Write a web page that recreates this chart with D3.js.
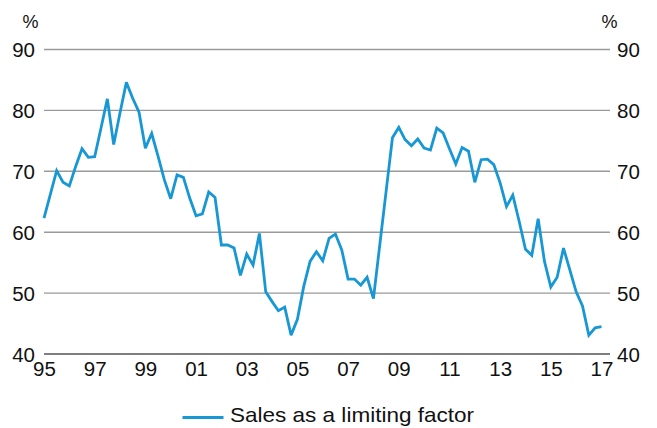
<!DOCTYPE html>
<html>
<head>
<meta charset="utf-8">
<script src="https://cdn.jsdelivr.net/npm/d3@7"></script>
<style>
  html, body { margin: 0; padding: 0; background: #fff; }
  svg { display: block; font-family: "Liberation Sans", Arial, Helvetica, sans-serif; }
</style>
</head>
<body>
<svg id="chart" width="657" height="428"></svg>
<script>
// ---- Data (quarterly, 1995 Q1 .. 2017 Q1) ----
const startYear = 1995;
const seriesName = "Sales as a limiting factor";
const salesValues = [
  62.3, 66.2, 70.1, 68.2, 67.6, 70.8, 73.7, 72.3,
  72.4, 77.1, 81.9, 74.4, 79.6, 84.6, 82.0, 79.7,
  73.8, 76.2, 72.5, 68.6, 65.5, 69.4, 69.0, 65.6,
  62.7, 63.0, 66.6, 65.7, 57.9, 57.9, 57.4, 52.9,
  56.4, 54.6, 59.8, 50.2, 48.6, 47.1, 47.7, 43.1,
  45.7, 51.1, 55.2, 56.8, 55.3, 59.0, 59.7, 57.1,
  52.3, 52.3, 51.3, 52.6, 49.1, 57.9, 66.7, 75.5,
  77.2, 75.2, 74.2, 75.3, 73.8, 73.5, 77.1, 76.3,
  73.7, 71.2, 73.9, 73.3, 68.2, 71.9, 72.0, 71.1,
  68.1, 64.2, 66.1, 61.8, 57.2, 56.2, 62.2, 55.2,
  51.0, 52.6, 57.4, 53.8, 50.2, 47.9, 43.1, 44.3,
  44.5
];
const xTickYears = [1995, 1997, 1999, 2001, 2003, 2005, 2007, 2009, 2011, 2013, 2015, 2017];
const xTickLabels = ["95", "97", "99", "01", "03", "05", "07", "09", "11", "13", "15", "17"];
const yTicks = [40, 50, 60, 70, 80, 90];
const yUnit = "%";

// ---- Layout ----
const svg = d3.select("#chart");
const plotLeft = 44, plotRight = 610;
const x = d3.scaleLinear().domain([1995, 2017]).range([44, 601.5]);
const y = d3.scaleLinear().domain([40, 90]).range([354, 49.5]);

const data = salesValues.map((v, i) => ({ t: startYear + i / 4, v }));

// gridlines
svg.append("g").selectAll("line").data(yTicks).join("line")
  .attr("x1", plotLeft).attr("x2", plotRight)
  .attr("y1", d => y(d)).attr("y2", d => y(d))
  .attr("stroke", d => d === 40 ? "#555" : "#9a9a9a")
  .attr("stroke-width", d => d === 40 ? 1.6 : 1.4);

// left y axis labels
const yAxisL = d3.axisLeft(y).tickValues(yTicks).tickSize(0).tickPadding(0);
const gL = svg.append("g").attr("transform", "translate(35,0)").call(yAxisL);
gL.select(".domain").remove();
gL.selectAll("text").attr("font-size", "20.5px").attr("fill", "#111")
  .attr("font-family", "Liberation Sans, Arial, sans-serif").attr("dy", "0.36em");

// right y axis labels
const yAxisR = d3.axisRight(y).tickValues(yTicks).tickSize(0).tickPadding(0);
const gR = svg.append("g").attr("transform", "translate(617,0)").call(yAxisR);
gR.select(".domain").remove();
gR.selectAll("text").attr("font-size", "20.5px").attr("fill", "#111")
  .attr("font-family", "Liberation Sans, Arial, sans-serif").attr("dy", "0.36em");

// % units
svg.append("text").attr("x", 30.5).attr("y", 28).attr("text-anchor", "middle")
  .attr("font-size", "18px").attr("fill", "#111").text(yUnit);
svg.append("text").attr("x", 609.5).attr("y", 28).attr("text-anchor", "middle")
  .attr("font-size", "18px").attr("fill", "#111").text(yUnit);

// x axis labels
const xAxis = d3.axisBottom(x).tickValues(xTickYears)
  .tickFormat((d, i) => xTickLabels[i]).tickSize(0).tickPadding(0);
const gX = svg.append("g").attr("transform", "translate(0,361)").call(xAxis);
gX.select(".domain").remove();
gX.selectAll("text").attr("font-size", "20.5px").attr("fill", "#111")
  .attr("font-family", "Liberation Sans, Arial, sans-serif").attr("dy", "0.72em");

// line
const line = d3.line().x(d => x(d.t)).y(d => y(d.v));
svg.append("path").datum(data)
  .attr("d", line)
  .attr("fill", "none")
  .attr("stroke", "#1797d3")
  .attr("stroke-width", 2.8)
  .attr("stroke-linejoin", "miter")
  .attr("stroke-miterlimit", 3);

// legend
const lg = svg.append("g");
lg.append("line").attr("x1", 182.5).attr("x2", 223.5).attr("y1", 417.5).attr("y2", 417.5)
  .attr("stroke", "#1797d3").attr("stroke-width", 2.8);
lg.append("text").attr("x", 230).attr("y", 422)
  .attr("font-size", "21px").attr("fill", "#111")
  .attr("textLength", 244).attr("lengthAdjust", "spacingAndGlyphs")
  .text(seriesName);
</script>
</body>
</html>
